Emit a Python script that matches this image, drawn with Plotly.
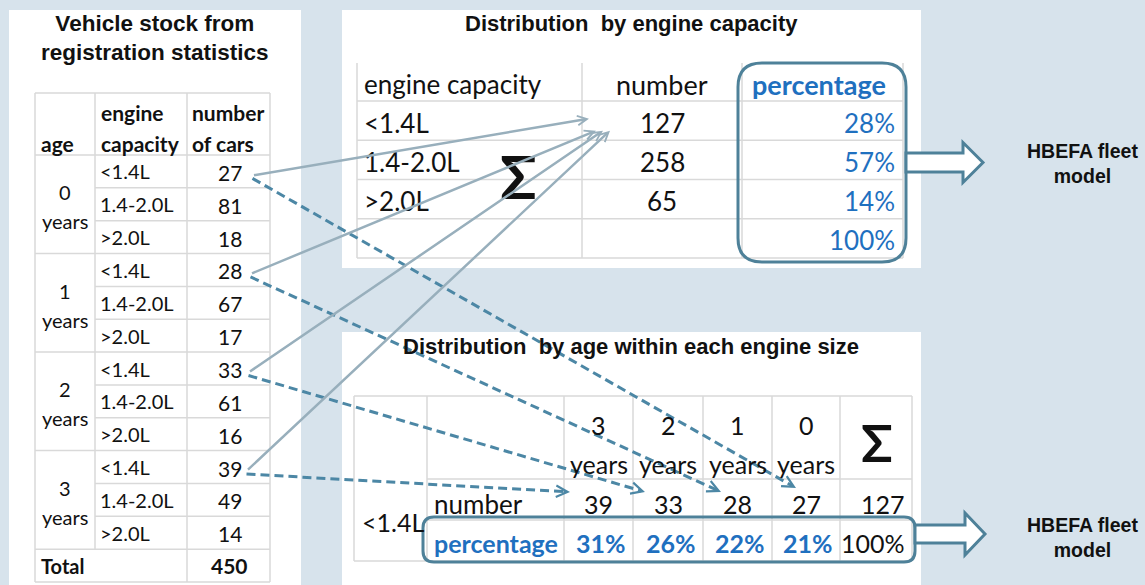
import plotly.graph_objects as go

# ---------------- data ----------------
age_groups = ["0", "1", "2", "3"]
engine_classes = ["<1.4L", "1.4-2.0L", ">2.0L"]
cars_age0 = [27, 81, 18]
cars_age1 = [28, 67, 17]
cars_age2 = [33, 61, 16]
cars_age3 = [39, 49, 14]
cars_total = 450

capacity_numbers = [127, 258, 65]
capacity_percent = ["28%", "57%", "14%", "100%"]

age_columns = ["3", "2", "1", "0"]
small_engine_numbers = [39, 33, 28, 27]
small_engine_sum = 127
small_engine_percent = ["31%", "26%", "22%", "21%"]
small_engine_percent_sum = "100%"

titles = ["Vehicle stock from<br>registration statistics",
          "Distribution  by engine capacity",
          "Distribution  by age within each engine size"]
target_label = "HBEFA fleet<br>model"

# ---------------- style ----------------
W, H = 1145, 585
BG = "#D7E3EC"
GRID = "#D9D9D9"
FRAME = "#4E8199"
BLUE = "#1F70BF"
SOLID = "#98AFBC"
DASHED = "#4C87A5"
TXT = "#111111"
TITLE_FONT = "Liberation Sans"
CELL_FONT = "Lato"

shapes = []
annotations = []


def rect(x0, y0, x1, y1, fill, line=None, layer="below"):
    shapes.append(dict(type="rect", xref="x", yref="y", x0=x0, y0=y0, x1=x1, y1=y1,
                       fillcolor=fill, line=dict(width=0) if line is None else line,
                       layer=layer))


def hline(x0, x1, y, color=GRID, width=1.5):
    shapes.append(dict(type="line", xref="x", yref="y", x0=x0, x1=x1, y0=y, y1=y,
                       line=dict(color=color, width=width), layer="below"))


def vline(x, y0, y1, color=GRID, width=1.5):
    shapes.append(dict(type="line", xref="x", yref="y", x0=x, x1=x, y0=y0, y1=y1,
                       line=dict(color=color, width=width), layer="below"))


def txt(x, y, s, size, color=TXT, bold=False, family=CELL_FONT, xanchor="center"):
    annotations.append(dict(x=x, y=y, xref="x", yref="y", text=str(s), showarrow=False,
                            xanchor=xanchor, yanchor="middle",
                            font=dict(family=family, size=size, color=color,
                                      weight="bold" if bold else "normal")))


def rounded(x0, y0, x1, y1, r, color=FRAME, width=3):
    p = (f"M{x0+r},{y0} L{x1-r},{y0} Q{x1},{y0} {x1},{y0+r} L{x1},{y1-r} "
         f"Q{x1},{y1} {x1-r},{y1} L{x0+r},{y1} Q{x0},{y1} {x0},{y1-r} "
         f"L{x0},{y0+r} Q{x0},{y0} {x0+r},{y0} Z")
    shapes.append(dict(type="path", xref="x", yref="y", path=p,
                       line=dict(color=color, width=width), fillcolor="rgba(0,0,0,0)",
                       layer="above"))


def block_arrow(x0, yc, x_head, x_tip, half_shaft, half_head):
    p = (f"M{x0},{yc-half_shaft} L{x_head},{yc-half_shaft} L{x_head},{yc-half_head} "
         f"L{x_tip},{yc} L{x_head},{yc+half_head} L{x_head},{yc+half_shaft} "
         f"L{x0},{yc+half_shaft} Z")
    shapes.append(dict(type="path", xref="x", yref="y", path=p,
                       line=dict(color=FRAME, width=3), fillcolor="white", layer="above"))


def arrow(x0, y0, x1, y1, color, dashed=False):
    if dashed:
        dx, dy = x1 - x0, y1 - y0
        L = (dx * dx + dy * dy) ** 0.5
        ux, uy = dx / L, dy / L
        shapes.append(dict(type="line", xref="x", yref="y", x0=x0, y0=y0,
                           x1=x1 - 4 * ux, y1=y1 - 4 * uy,
                           line=dict(color=color, width=3, dash="9px,5px"), layer="above"))
        ax, ay = x1 - 8 * ux, y1 - 8 * uy
    else:
        ax, ay = x0, y0
    annotations.append(dict(x=x1, y=y1, ax=ax, ay=ay, xref="x", yref="y",
                            axref="x", ayref="y", text="", showarrow=True,
                            arrowhead=5, arrowsize=0.75, arrowwidth=2.5 if not dashed else 3,
                            arrowcolor=color, standoff=0))


# ---------------- panels ----------------
rect(9, 10, 301, H + 5, "white")
rect(342, 10, 921, 268, "white")
rect(342, 332, 921, H + 5, "white")

# ---------------- left table: vehicle stock ----------------
lc = [35, 95, 187, 270]
l_top, l_head = 93, 155
n_rows = len(age_groups) * len(engine_classes)
rh = (582 - l_head) / (n_rows + 1)
l_bottom = l_head + (n_rows + 1) * rh

txt(155, 38, titles[0], 22.5, bold=True, family=TITLE_FONT)

vline(lc[0], l_top, l_bottom)
vline(lc[3], l_top, l_bottom)
vline(lc[1], l_top, l_head + n_rows * rh)
vline(lc[2], l_top, l_bottom)
hline(lc[0], lc[3], l_top)
hline(lc[0], lc[3], l_head)
for i in range(1, n_rows + 1):
    y = l_head + i * rh
    if i % len(engine_classes) == 0:
        hline(lc[0], lc[3], y)
    else:
        hline(lc[1], lc[3], y)
hline(lc[0], lc[3], l_bottom)

hs = 21
bs_l = 20
txt(lc[0] + 4, 143, "age", hs, bold=True, xanchor="left")
txt(lc[1] + 4, 112, "engine", hs, bold=True, xanchor="left")
txt(lc[1] + 4, 143, "capacity", hs, bold=True, xanchor="left")
txt(lc[2] + 3, 112, "number", hs, bold=True, xanchor="left")
txt(lc[2] + 3, 143, "of cars", hs, bold=True, xanchor="left")

stock = [cars_age0, cars_age1, cars_age2, cars_age3]
row_centers = {}
for g, age in enumerate(age_groups):
    gc = l_head + (g * 3 + 1.5) * rh
    txt((lc[0] + lc[1]) / 2, gc - 12, age, bs_l)
    txt((lc[0] + lc[1]) / 2, gc + 17, "years", bs_l)
    for k, cls in enumerate(engine_classes):
        yc = l_head + (g * 3 + k + 0.5) * rh
        row_centers[(g, k)] = yc
        txt(lc[1] + 3, yc, cls, bs_l, xanchor="left")
        txt((lc[2] + lc[3]) / 2 + 1, yc + 1, stock[g][k], bs_l + 1)
yt = l_head + (n_rows + 0.5) * rh
txt(lc[0] + 4, yt, "Total", bs_l, bold=True, xanchor="left")
txt((lc[2] + lc[3]) / 2 + 1, yt, cars_total, bs_l + 1, bold=True)

# ---------------- top table: distribution by engine capacity ----------------
tc = [357, 582, 742, 903]
tr = [63, 101, 140.25, 179.5, 218.75, 258]
txt(631, 23, titles[1], 22, bold=True, family=TITLE_FONT)
for x in tc:
    vline(x, tr[0], tr[-1])
for y in tr[1:]:
    hline(tc[0], tc[-1], y)
ts = 26
txt(tc[0] + 5, (tr[0] + tr[1]) / 2 + 2, "engine capacity", ts, xanchor="left")
txt((tc[1] + tc[2]) / 2, (tr[0] + tr[1]) / 2 + 2, "number", ts + 1)
txt((tc[2] + tc[3]) / 2 - 4, (tr[0] + tr[1]) / 2 + 2, "percentage", ts + 1, color=BLUE, bold=True)
for k in range(len(engine_classes)):
    yc = (tr[k + 1] + tr[k + 2]) / 2 + 2
    txt(tc[0] + 5, yc, engine_classes[k], ts, xanchor="left")
    txt((tc[1] + tc[2]) / 2, yc, capacity_numbers[k], ts)
for k, p in enumerate(capacity_percent):
    yc = (tr[k + 1] + tr[k + 2]) / 2 + 2
    txt(tc[3] - 6, yc, p, ts, color=BLUE, xanchor="right")
txt(518, 176, "Σ", 60, bold=True)
rounded(738, 63, 906, 262, 24)
block_arrow(906, 162.5, 963, 983, 9.5, 20)
txt(1082, 163, target_label, 19.5, bold=True, family=TITLE_FONT)

# ---------------- bottom table: distribution by age (<1.4L) ----------------
bc = [354, 427, 564, 633, 703, 772, 840, 912]
br = [396, 479, 520, 561]
txt(631, 346, titles[2], 22, bold=True, family=TITLE_FONT)
for x in bc:
    vline(x, br[0], br[-1])
hline(bc[0], bc[-1], br[0])
hline(bc[1], bc[-1], br[1])
hline(bc[1], bc[-1], br[2])
hline(bc[0], bc[-1], br[3])
bs = 25
for i, a in enumerate(age_columns):
    xc = (bc[2 + i] + bc[3 + i]) / 2
    txt(xc, 425, a, bs)
    txt(xc, 464, "years", bs)
    txt(xc, 504, small_engine_numbers[i], bs)
    txt(bc[3 + i] - 5, 543, small_engine_percent[i], bs, color=BLUE, bold=True, xanchor="right")
txt((bc[6] + bc[7]) / 2 + 1, 442, "Σ", 52, bold=True)
txt(bc[7] - 5, 504, small_engine_sum, bs, xanchor="right")
txt(bc[7] - 5, 543, small_engine_percent_sum, bs, xanchor="right")
txt(bc[1] + 5, 504, "number", bs + 1, xanchor="left")
txt(bc[1] + 5, 543, "percentage", bs, color=BLUE, bold=True, xanchor="left")
txt(bc[0] + 6, 522, engine_classes[0], bs, xanchor="left")
rounded(423, 517, 915, 562, 11)
block_arrow(915, 534, 965, 985, 9, 21)
txt(1082, 537, target_label, 19.5, bold=True, family=TITLE_FONT)

# ---------------- connectors ----------------
num_right = (lc[2] + lc[3]) / 2 + 24
for g in range(len(age_groups)):
    y0 = row_centers[(g, 0)]
    # solid: into the engine-capacity sum
    tip_x = tc[1] + 7 + 7 * g
    tip_y = (tr[1] + tr[2]) / 2 + (-2 if g == 0 else 10)
    arrow(num_right - 2 * g, y0 + 4, tip_x, tip_y, SOLID)
for g in range(len(age_groups)):
    y0 = row_centers[(g, 0)]
    i = age_columns.index(age_groups[g])
    tip_x = bc[2 + i] + 6 + 6 * i
    tip_y = 492 - (4 if i == 3 else 0)
    arrow(num_right - 2 * g, y0 + 7, tip_x, tip_y, DASHED, dashed=True)

fig = go.Figure(go.Scatter(x=[0], y=[0], mode="markers", marker=dict(opacity=0),
                           hoverinfo="skip", showlegend=False))
fig.update_layout(
    width=W, height=H, margin=dict(l=0, r=0, t=0, b=0),
    paper_bgcolor=BG, plot_bgcolor=BG,
    xaxis=dict(range=[0, W], visible=False, fixedrange=True),
    yaxis=dict(range=[H, 0], visible=False, fixedrange=True),
    shapes=shapes, annotations=annotations, showlegend=False,
)
fig.write_html(
    "out.html",
    config={"displayModeBar": False},
    post_script=("document.body.style.margin='0';document.body.style.padding='0';"
                 "document.body.style.overflow='hidden';"
                 f"document.body.style.background='{BG}';"),
)
